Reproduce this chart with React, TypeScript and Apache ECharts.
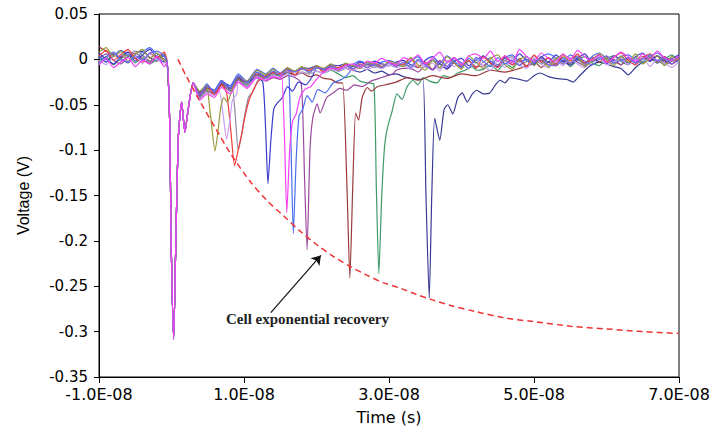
import { useEffect, useRef } from 'react';
import * as echarts from 'echarts';

// ---- sampling grid (ns) ----
const PRE_T = [-10, -9, -8, -7, -6, -5, -4, -3, -2, -1];
const POST_T_EARLY = [3.9, 4.9, 5.9, 6.9, 8.1, 9.2, 10.4, 11.8];
const POST_T_LATE: number[] = [];
for (let t = 13; t <= 70; t++) POST_T_LATE.push(t);
const GRID_T = [...PRE_T, ...POST_T_EARLY, ...POST_T_LATE];

// main pulse shared by all traces [ns, mV]
const MAIN_PULSE = [[-0.6, -3], [-0.25, -70], [-0.05, -200], [0.3, -308], [0.6, -200], [0.95, -85], [1.4, -47], [1.85, -80], [2.3, -55], [3.0, -26]];

// baseline values on GRID_T (mV)
const oliveV = [8, 13, 3, 9, -2, 6, 11, 1, 7, -1,
  -35, -28, -36, -25, -30, -18, -24, -12,
  -17, -11, -19, -9, -13, -8, -15, -7, -10, -5,
  -12, -4, -7, -10, -3, -6, -9, -2, -5, -8,
  2, -6, -12, -1, -9, 3, -4, -11, 4, -3,
  -10, 1, 5, -6, -11, 0, 3, -7, 2, -9,
  0, 5, -5, 3, -8, -2, 6, 1, -7, 3,
  -3, 6, -5, 1, 4, -7, 3, -2];
const lavenderV = [-1, -6, 3, 7, -3, 4, -5, 6, 0, -4,
  -44, -36, -40, -30, -36, -24, -31, -19,
  -23, -18, -20, -16, -19, -14, -16, -13, -15, -11,
  -13, -10, -12, -9, -11, -8, -10, -6, -9, -7,
  -11, -2, -9, -4, -13, -1, -8, -3, -10, 1,
  -7, -12, -2, -9, 1, -6, -10, 2, -5, -9,
  -1, -7, 2, -5, -9, -1, 3, -6, -3, 1,
  -6, -1, 2, -8, 0, -4, -9, -2];
const redV = [4, 10, -1, 5, 11, 1, -3, 7, 2, 8,
  -38, -29, -39, -28, -32, -22, -26, -16,
  -18, -14, -16, -11, -17, -10, -12, -8, -14, -7,
  -9, -6, -11, -5, -9, -4, -8, -3, -7, -5,
  1, -9, -3, -11, -1, -8, 2, -6, -1, -10,
  3, -4, -9, 4, -6, -1, -8, 5, -3, 2,
  -6, 4, -2, 6, -4, 0, 5, -3, 2, 7,
  -1, -6, 2, 6, -3, 3, -5, 1];
const greyV = [-4, 2, 7, -2, 4, 9, 5, -3, 3, -1,
  -42, -33, -35, -24, -35, -21, -29, -17,
  -21, -17, -15, -14, -13, -11, -12, -9, -10, -8,
  -11, -9, -7, -8, -6, -9, -5, -7, -4, -6,
  -7, -1, -9, 1, -10, -4, 2, -7, -2, -9,
  -3, 2, -7, -1, 3, -6, -2, 4, -3, -6,
  2, -5, 0, 4, -6, -2, 3, -1, -5, 4,
  -3, 2, -5, 3, -1, -6, -2, 2];
const blueV = [7, 0, -5, 3, 8, -2, 5, 11, 2, -3,
  -37, -30, -34, -23, -31, -19, -25, -20,
  -18, -15, -17, -13, -15, -12, -13, -9, -11, -6,
  -7, -5, -8, -3, -6, -2, -5, -7, -3, -1,
  -6, -9, -1, 3, -5, -10, -2, 1, -7, -1,
  4, -4, -8, 2, -2, 6, -1, -6, 3, -3,
  5, -2, -6, 1, 6, -3, 2, -5, 4, 0,
  -4, 3, 7, -2, 4, -3, 1, 5];
const magentaV = [-6, 1, -9, -3, 2, -8, -1, -5, 3, -8,
  -45, -38, -42, -31, -38, -25, -32, -20,
  -23, -19, -21, -17, -19, -15, -17, -13, -14, -10,
  -11, -7, -5, -9, -2, -4, 1, -3, -6, 2,
  -1, 5, -5, 1, 8, -3, 2, -6, 4, 6,
  1, 9, -2, 4, -4, 11, 3, -2, 7, 1,
  -3, 6, 0, 10, 3, -1, 5, -4, 2, 8,
  3, -2, 6, 0, 9, 2, -1, 4];
const royalV = [3, -3, 4, 10, 5, 1, 8, 13, 6, 3,
  -36, -27, -38, -25, -29, -16, -24, -11,
  -16, -10, -15, -9, -12, -8, -11, -6, -9, -5,
  -8, -4, -6, -2, -5, -7, -3, -1, -4, -6,
  -2, 3, -6, -1, -4, 4, -2, -8, 1, -4,
  3, -2, -6, 2, 5, -3, 0, -5, 3, 6,
  2, -3, 5, 0, -5, 3, 7, 1, -2, 3,
  5, -1, -4, 3, 7, 1, -2, 4];
const plumV = [1, 6, -1, -5, 3, 7, 0, -4, 4, -1,
  -41, -34, -39, -28, -35, -23, -30, -18,
  -24, -20, -22, -18, -20, -17, -19, -16, -18, -15,
  -16, -14, -15, -13, -14, -12, -13, -11, -12, -10,
  -10, -14, -7, -12, -5, -11, -4, -9, -2, -8,
  -7, -2, -9, -1, -6, 1, -8, -4, -1, -6,
  0, -5, 2, -3, -7, -1, 3, -4, 0, -6,
  1, -4, 2, -2, 4, -4, -1, -3];
const brownV = [14, 9, 5, 2, 8, 1, 4, -2, 3, 0,
  -39, -32, -36, -27, -32, -21, -26, -16,
  -20, -15, -18, -14, -17, -15, -19, -17, -21, -22,
  -26, -25, -30, -28, -33, -31, -29, -27, -26, -24,
  -22, -23, -21, -20, -19, -20, -18, -17, -16, -15,
  -14, -12, -10, -8, -9, -7, -7, -2, -9, -3,
  -7, -1, -6, 1, -4, 2, -3, 3, -2, -6,
  1, -4, 3, -2, 4, -1, -5, 2];
const greenV = [-2, 3, -6, 1, 5, -4, 2, -5, 0, 6,
  -43, -35, -38, -29, -34, -22, -28, -18,
  -21, -17, -18, -15, -17, -14, -16, -13, -15, -12,
  -16, -20, -18, -24, -26, -19, -22, -25, -24, -26,
  -24, -22, -20, -21, -19, -18, -17, -16, -14, -12,
  -11, -6, -12, -4, -9, -1, -8, 0, -5, 2,
  -5, 2, -8, -1, 3, -4, -7, 1, 4, -2,
  -6, 2, -3, 4, -4, 0, 5, -3];
const navyV = [4, -3, 7, 1, -4, 6, 9, 2, -2, 5,
  -40, -31, -36, -26, -33, -19, -26, -14,
  -19, -14, -16, -11, -13, -9, -10, -7, -12, -8,
  -13, -10, -12, -14, -11, -15, -13, -17, -16, -19,
  -21, -22, -25, -30, -40, -38, -36, -35, -34, -37,
  -33, -30, -25, -22, -20, -18, -22, -20, -16, -15,
  -18, -22, -24, -20, -15, -6, -3, -5, -8, -10,
  -17, -9, -3, 2, -4, 3, -1, 2];
const medBlueV = [-5, 3, 8, 0, -3, 4, -1, 7, 9, 4,
  -39, -29, -35, -24, -32, -18, -26, -14,
  -20, -13, -18, -12, -14, -10, -14, -9, -11, -7,
  -11, -7, -10, -6, -9, -5, -9, -4, -8, -3,
  -9, 0, -6, -11, -2, -8, 1, -4, -10, 2,
  -2, -8, 2, -5, -1, -7, 3, -3, 1, -6,
  -7, 1, -4, 3, -2, -6, 0, 4, -4, -1,
  2, -4, 0, 5, -2, 2, -5, 0];

// afterpulses [ns, mV]
const AP_OLIVE = [[5.0, -34], [5.5, -70], [6.0, -101], [6.4, -80], [6.8, -53], [7.2, -42], [7.7, -47], [8.3, -35]];
const AP_LAVENDER = [[6.6, -35], [7.1, -60], [7.6, -88], [8.0, -70], [8.4, -45], [9.0, -38]];
const AP_RED = [[7.6, -37], [8.2, -80], [8.7, -117], [9.2, -100], [9.7, -82], [10.1, -64], [10.7, -45], [11.4, -32], [12.0, -24]];
const AP_GREY = [[8.4, -32], [8.8, -62], [9.2, -100], [9.6, -86], [9.9, -71], [10.6, -42], [11.2, -36], [12.0, -22]];
const AP_BLUE = [[12.6, -25], [13.0, -80], [13.3, -137], [13.7, -90], [14.1, -55], [14.6, -48], [15.3, -42], [16.0, -30], [16.7, -35], [17.5, -25], [18.5, -28], [19.5, -18]];
const AP_MAGENTA = [[15.2, -15], [15.6, -90], [15.9, -169], [16.3, -100], [16.7, -68], [17.2, -60], [17.7, -42], [18.4, -33], [19.2, -30], [20.0, -22]];
const AP_ROYAL = [[16.2, -14], [16.5, -100], [16.8, -192], [17.2, -110], [17.6, -62], [18.1, -55], [18.7, -40], [19.4, -47], [20.2, -33], [21.2, -37], [22.3, -26], [23.5, -22], [24.5, -15]];
const AP_PLUM = [[17.9, -26], [18.35, -130], [18.7, -210], [19.1, -100], [19.5, -64], [20.1, -49], [20.5, -59], [21.4, -42], [22.3, -37], [23.2, -32], [24.2, -34], [25.2, -28], [26.3, -30], [27.5, -24], [29.0, -20], [30.5, -16]];
const AP_BROWN = [[23.6, -26], [24.2, -140], [24.6, -241], [25.0, -140], [25.4, -59], [25.8, -67], [26.3, -42], [27.0, -31], [27.6, -35], [28.4, -30], [29.5, -28], [31.0, -25], [32.5, -20], [34.0, -23], [36.0, -18], [38.0, -21], [40.0, -16], [42.0, -18], [44.0, -12], [46.0, -14], [48.0, -10]];
const AP_GREEN = [[27.9, -27], [28.25, -140], [28.6, -236], [29.0, -150], [29.4, -95], [29.8, -75], [30.4, -58], [31.1, -38], [31.8, -44], [32.5, -30], [33.3, -23], [34.0, -28], [34.7, -20], [35.6, -24], [36.6, -26], [37.5, -18], [38.5, -20], [39.5, -15], [40.5, -12], [41.5, -8]];
const AP_NAVY = [[34.7, -22], [35.1, -150], [35.55, -263], [35.9, -150], [36.3, -65], [37.0, -89], [37.6, -55], [38.1, -50], [38.8, -60], [39.5, -42], [40.1, -37], [40.8, -47], [41.5, -38], [42.1, -34], [43.0, -38], [43.9, -37], [44.6, -29], [45.3, -23], [46.0, -26], [46.7, -20], [48.0, -22], [49.0, -24], [50.0, -18], [50.8, -15], [52.0, -19], [53.0, -21], [54.5, -22], [55.4, -25], [56.3, -18], [57.3, -10]];

// exponential recovery (dashed) [ns, mV]
const RECOVERY = [[0.9, 0], [2, -18], [3.9, -46], [6, -75], [8, -102], [10.8, -134], [13.1, -155], [15.4, -172], [17.7, -189], [20, -204], [22.3, -217], [24.6, -228], [27, -238], [29.2, -246], [31.5, -252], [33.8, -259], [36, -265], [38.4, -271], [42, -278], [46, -285], [50, -289], [55, -294], [60, -297], [65, -300], [70, -302]];
const ARROW_FROM = [13.7, -279];
const ARROW_TO = [20.6, -216];

const TRACES: { name: string; color: string; values: number[]; pulse: number[][] | null }[] = [
  { name: 'navy', color: '#3a3a96', values: navyV, pulse: AP_NAVY },
  { name: 'green', color: '#3f9a6a', values: greenV, pulse: AP_GREEN },
  { name: 'brown', color: '#9a3a3a', values: brownV, pulse: AP_BROWN },
  { name: 'plum', color: '#9a4a9e', values: plumV, pulse: AP_PLUM },
  { name: 'royal', color: '#4a6cf0', values: royalV, pulse: AP_ROYAL },
  { name: 'blue', color: '#3a3acc', values: blueV, pulse: AP_BLUE },
  { name: 'grey', color: '#8a8aa8', values: greyV, pulse: AP_GREY },
  { name: 'red', color: '#f03a3a', values: redV, pulse: AP_RED },
  { name: 'lavender', color: '#c8a0f5', values: lavenderV, pulse: AP_LAVENDER },
  { name: 'olive', color: '#9a9a3a', values: oliveV, pulse: AP_OLIVE },
  { name: 'medblue', color: '#6a6af5', values: medBlueV, pulse: null },
  { name: 'magenta', color: '#f540f5', values: magentaV, pulse: AP_MAGENTA },
];

function buildTrace(values: number[], pulse: number[][] | null) {
  const n = Math.min(GRID_T.length, values.length);
  let pts: number[][] = [];
  for (let j = 0; j < n; j++) pts.push([GRID_T[j], values[j]]);
  pts = pts.concat(MAIN_PULSE);
  if (pulse) {
    const a = pulse[0][0];
    const b = pulse[pulse.length - 1][0];
    pts = pts.filter((p) => p[0] < a || p[0] > b).concat(pulse);
  }
  pts.sort((p, q) => p[0] - q[0]);
  return pts.map((p) => [p[0], p[1] / 1000]);
}

const AXIS_FONT = '"DejaVu Sans", sans-serif';

export default function App() {
  const ref = useRef<HTMLDivElement>(null);
  useEffect(() => {
    const chart = echarts.init(ref.current!, null, { renderer: 'svg' });
    const series: any[] = TRACES.map((tr) => ({
      name: tr.name,
      type: 'line',
      data: buildTrace(tr.values, tr.pulse),
      showSymbol: false,
      symbol: 'none',
      smooth: 0.2,
      lineStyle: { color: tr.color, width: 1.2 },
      itemStyle: { color: tr.color },
      silent: true,
      z: 2,
    }));
    series.push({
      name: 'recovery',
      type: 'line',
      data: RECOVERY.map((p) => [p[0], p[1] / 1000]),
      showSymbol: false,
      symbol: 'none',
      smooth: 0.3,
      lineStyle: { color: '#ee3333', width: 1.5, type: [6, 4] },
      silent: true,
      z: 3,
      markLine: {
        silent: true,
        symbol: ['none', 'arrow'],
        symbolSize: 9,
        label: { show: false },
        lineStyle: { color: '#111', width: 1.2, type: 'solid' },
        data: [[
          { coord: [ARROW_FROM[0], ARROW_FROM[1] / 1000] },
          { coord: [ARROW_TO[0], ARROW_TO[1] / 1000] },
        ]],
      },
    });
    chart.setOption({
      animation: false,
      backgroundColor: '#fff',
      grid: {
        left: 99, right: 30, top: 14, bottom: 67,
        show: true, borderColor: '#000', borderWidth: 1,
        containLabel: false, outerBoundsMode: 'none',
      },
      xAxis: {
        type: 'value',
        min: -10, max: 70, interval: 20,
        name: 'Time (s)',
        nameLocation: 'middle',
        nameGap: 32,
        nameTextStyle: { fontFamily: AXIS_FONT, fontSize: 16, color: '#000' },
        axisLine: { onZero: false, lineStyle: { color: '#000', width: 1 } },
        axisTick: { show: true, length: 6, lineStyle: { color: '#000' } },
        axisLabel: {
          margin: 9,
          fontFamily: AXIS_FONT, fontSize: 16, color: '#000',
          formatter: (v: number) => (v / 10).toFixed(1) + 'E-08',
        },
        splitLine: { show: false },
      },
      yAxis: {
        type: 'value',
        min: -0.35, max: 0.05, interval: 0.05,
        name: 'Voltage (V)',
        nameLocation: 'middle',
        nameGap: 68,
        nameRotate: 90,
        nameTextStyle: { fontFamily: '"Liberation Sans", Arial, sans-serif', fontSize: 16, color: '#000' },
        axisLine: { onZero: false, lineStyle: { color: '#000', width: 1 } },
        axisTick: { show: true, length: 5, lineStyle: { color: '#000' } },
        axisLabel: {
          margin: 11,
          fontFamily: AXIS_FONT, fontSize: 15, color: '#000',
          formatter: (v: number) => String(Math.round(v * 100) / 100),
        },
        splitLine: { show: false },
      },
      graphic: [
        {
          type: 'text',
          left: 226,
          top: 311,
          style: {
            text: 'Cell exponential recovery',
            font: 'bold 15px "Liberation Serif", serif',
            fill: '#222',
          },
        },
      ],
      series,
    });
    return () => chart.dispose();
  }, []);
  return <div ref={ref} style={{ position: 'absolute', left: 0, top: 0, width: 709, height: 444 }} />;
}
